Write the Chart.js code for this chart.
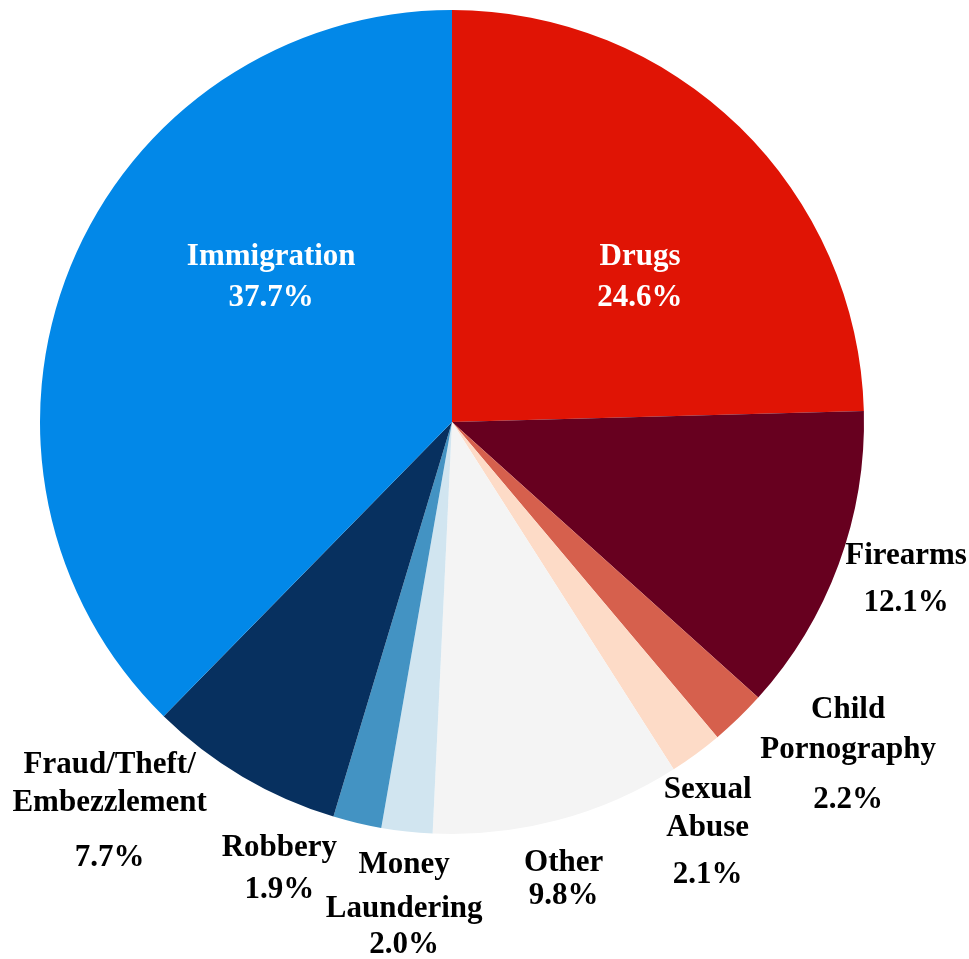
<!DOCTYPE html>
<html>
<head>
<meta charset="utf-8">
<title>Offense types</title>
<script src="https://cdn.jsdelivr.net/npm/chart.js@4.4.0/dist/chart.umd.min.js"></script>
<style>
    html, body { margin: 0; padding: 0; background: #fff; }
    #wrap { width: 969px; height: 959px; position: relative; }
</style>
</head>
<body>
<div id="wrap"><canvas id="offenseChart"></canvas></div>
<script>
// Categories, clockwise from 12 o'clock (\n = line break in the label)
const categories = [
    'Drugs', 'Firearms', 'Child\nPornography', 'Sexual\nAbuse', 'Other',
    'Money\nLaundering', 'Robbery', 'Fraud/Theft/\nEmbezzlement', 'Immigration'
];
// Share of cases (%)
const shares = [24.6, 12.1, 2.2, 2.1, 9.8, 2.0, 1.9, 7.7, 37.7];
const sliceColors = [
    '#E01405', '#67001F', '#D6604D', '#FDDBC7', '#F4F4F4',
    '#D1E5F0', '#4393C3', '#07305F', '#0288E8'
];

// Where each label sits: angle (deg, clockwise from top), distance in radii, gap before the % line
const labelAngle = [48.2, 106.1, 125.7, 145.0, 165.7, 186.2, 202.2, 225.2, 312.9];
const labelDist = [0.612, 1.147, 1.184, 1.082, 1.097, 1.074, 1.109, 1.171, 0.599];
const nameGap = [39, 39, 40, 38, 39, 44, 39, 38, 39];
const pctGap = [41, 47, 50, 47, 33, 36, 42, 55, 41];
const insideLabel = [true, false, false, false, false, false, false, false, true];

const LABEL_FONT = 'bold 31px "Liberation Serif", "DejaVu Serif", serif';

// Dessine les étiquettes autour du camembert
const sliceLabels = {
    id: 'sliceLabels',
    afterDatasetsDraw(chart) {
        const ctx = chart.ctx;
        const arc = chart.getDatasetMeta(0).data[0];
        const cx = arc.x, cy = arc.y, r = arc.outerRadius;

        ctx.save();
        ctx.font = LABEL_FONT;
        ctx.textAlign = 'center';
        ctx.textBaseline = 'middle';

        categories.forEach(function(name, i) {
            const a = labelAngle[i] * Math.PI / 180;
            const x = cx + Math.sin(a) * r * labelDist[i];
            let y = cy - Math.cos(a) * r * labelDist[i] + 3;
            ctx.fillStyle = insideLabel[i] ? '#ffffff' : '#000000';

            const lines = name.split('\n');
            lines.forEach(function(line, k) {
                ctx.fillText(line, x, y);
                if (k < lines.length - 1) y += nameGap[i];
            });
            ctx.fillText(shares[i].toFixed(1) + '%', x, y + pctGap[i]);
        });
        ctx.restore();
    }
};

new Chart(document.getElementById('offenseChart'), {
    type: 'pie',
    data: {
        labels: categories,
        datasets: [{
            data: shares,
            backgroundColor: sliceColors,
            borderWidth: 0
        }]
    },
    options: {
        responsive: true,
        maintainAspectRatio: false,
        animation: false,
        layout: {
            padding: { top: 10, bottom: 125, left: 40, right: 105 }
        },
        plugins: {
            legend: { display: false },
            tooltip: { enabled: false }
        }
    },
    plugins: [sliceLabels]
});
</script>
</body>
</html>
